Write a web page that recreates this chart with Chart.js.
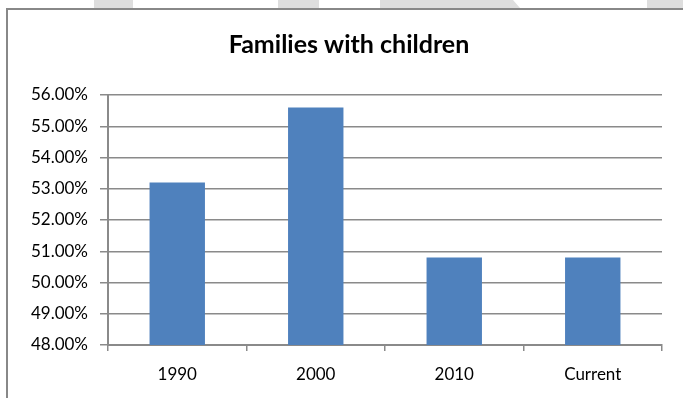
<!DOCTYPE html>
<html>
<head>
<meta charset="utf-8">
<script src="https://cdn.jsdelivr.net/npm/chart.js@4.4.1/dist/chart.umd.min.js"></script>
<style>
html,body{margin:0;padding:0;background:#fff;}
#wrap{position:relative;width:683px;height:398px;}
</style>
</head>
<body>
<div id="wrap"><canvas id="chart" width="683" height="398"></canvas></div>
<script>
const chartTitle = "Families with children";
const years = ["1990","2000","2010","Current"];
const shares = [53.2, 55.6, 50.8, 50.8];
const yMin = 48;
const yMax = 56;
const yStep = 1;

/* FRAME: faint strip along the top, box edges and the heading */

const frame = {
id:"frame",
beforeDraw(chart){
const c = chart.ctx;
c.save();
c.fillStyle = "#dedede";
c.fillRect(94,0,39,8);
c.fillRect(278,0,41,8);
c.beginPath();
c.moveTo(380,0);c.lineTo(513,0);c.lineTo(520,8);c.lineTo(380,8);
c.closePath();c.fill();
c.fillRect(647,0,36,8);
c.restore();
},
afterDraw(chart){
const c = chart.ctx;
c.save();
c.strokeStyle = "#888888";
c.lineWidth = 2;
c.beginPath();
c.moveTo(7,398);c.lineTo(7,9);c.lineTo(683,9);
c.stroke();

// heading sits a little right of the canvas middle
c.fillStyle = "#000";
c.font = "bold 25px Lato";
c.textAlign = "center";
c.textBaseline = "middle";
c.fillText(chartTitle,349,45);
c.restore();
}
};

const gridColor = "#8a8a8a";

new Chart(document.getElementById("chart"),{
type:"bar",
data:{
labels:years,
datasets:[{
data:shares,
backgroundColor:"#4f81bd",
borderWidth:0,
barPercentage:0.4,
categoryPercentage:1
}]
},
options:{
responsive:false,
animation:false,
devicePixelRatio:1,
layout:{padding:{left:0,right:21,top:95,bottom:0}},
plugins:{
legend:{display:false},
tooltip:{enabled:false},
title:{display:false}
},
scales:{
x:{
grid:{display:true,drawOnChartArea:false,color:gridColor,lineWidth:1.5,tickLength:6,offset:true},
border:{color:gridColor,width:2},
ticks:{color:"#000",font:{family:"Lato",size:17},padding:13},
afterFit(s){s.height = 53;}
},
y:{
min:yMin,
max:yMax,
grid:{color:gridColor,lineWidth:1.5,tickLength:8},
border:{color:gridColor,width:2},
ticks:{
stepSize:yStep,
color:"#000",
font:{family:"Lato",size:17},
padding:12,
callback:v=>v.toFixed(2)+"%"
},
afterFit(s){s.width = 108;}
}
}
},
plugins:[frame]
});
</script>
</body>
</html>
